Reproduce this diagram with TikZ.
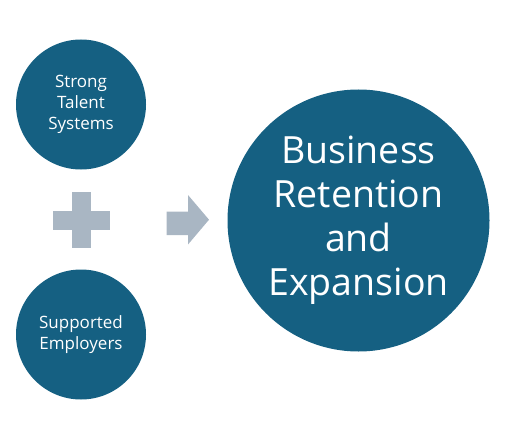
\documentclass[tikz,border=0pt]{standalone}
\usepackage{fontspec}
\setmainfont{Open Sans}[Ligatures=NoCommon]
\usepackage{tikz}
\usetikzlibrary{positioning, calc, shapes}

\definecolor{circblue}{HTML}{156082}
\definecolor{signgray}{HTML}{A9B6C3}

\tikzset{
  smallcirc/.style={circle, fill=circblue, text=white, inner sep=0pt,
    minimum size=130pt, align=center, font=\fontsize{17}{20.7}\selectfont},
  bigcirc/.style={circle, fill=circblue, text=white, inner sep=0pt,
    minimum size=262pt, align=center, font=\fontsize{37.5}{44}\selectfont}
}

\begin{document}
\begin{tikzpicture}[x=1pt,y=-1pt]
\useasboundingbox (0,0) rectangle (511,433);
% the three circles
\node[smallcirc] (talent) at (81,104.5) {Strong\\Talent\\Systems};
\node[smallcirc] (employers) at (81,334.5) {Supported\\Employers};
\node[bigcirc] (business) at (358.5,220.5) {Business\\Retention\\and\\Expansion};
% plus sign
\fill[signgray] (52.5,211) rectangle (110,229.5);
\fill[signgray] (72,192) rectangle (90.5,247.5);
% block arrow
\fill[signgray] (166.5,211.5) -- (188,211.5) -- (188,195) -- (209,219.7)
  -- (188,244.5) -- (188,235) -- (166.5,235) -- cycle;
\end{tikzpicture}
\end{document}
